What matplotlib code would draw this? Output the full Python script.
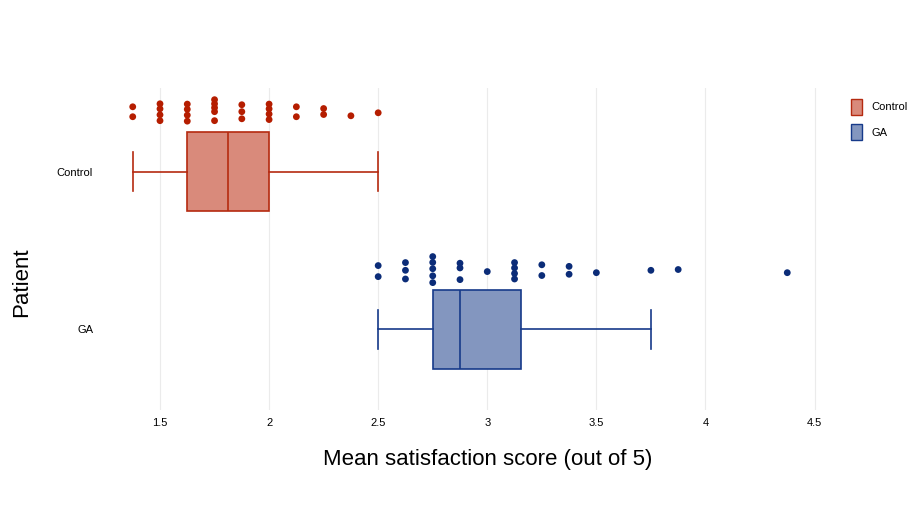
import matplotlib
matplotlib.use("Agg")
import matplotlib.pyplot as plt
from matplotlib.patches import Patch

# ---------------- data ----------------
groups = ["GA", "Control"]          # y positions 1, 2
group_pos = [1, 2]

# box statistics (mean satisfaction score)
box_q1 = [2.75, 1.625]
box_med = [2.875, 1.8125]
box_q3 = [3.15625, 2.0]
box_whislo = [2.5, 1.375]
box_whishi = [3.75, 2.5]

# individual scores shown as dots above each box (x value, vertical offset)
control_x = [1.375, 1.375,
             1.5, 1.5, 1.5, 1.5,
             1.625, 1.625, 1.625, 1.625,
             1.75, 1.75, 1.75, 1.75, 1.75,
             1.875, 1.875, 1.875,
             2.0, 2.0, 2.0, 2.0,
             2.125, 2.125,
             2.25, 2.25,
             2.375,
             2.5]
control_off = [0.411, 0.348,
               0.430, 0.398, 0.360, 0.323,
               0.428, 0.395, 0.358, 0.320,
               0.456, 0.430, 0.405, 0.380, 0.323,
               0.424, 0.380, 0.335,
               0.428, 0.398, 0.365, 0.330,
               0.411, 0.348,
               0.400, 0.362,
               0.354,
               0.373]

ga_x = [2.5, 2.5,
        2.625, 2.625, 2.625,
        2.75, 2.75, 2.75, 2.75, 2.75,
        2.875, 2.875, 2.875,
        3.0,
        3.125, 3.125, 3.125, 3.125,
        3.25, 3.25,
        3.375, 3.375,
        3.5,
        3.75,
        3.875,
        4.375]
ga_off = [0.405, 0.335,
          0.424, 0.375, 0.320,
          0.462, 0.425, 0.385, 0.340, 0.297,
          0.420, 0.390, 0.316,
          0.367,
          0.424, 0.390, 0.355, 0.320,
          0.410, 0.342,
          0.400, 0.350,
          0.360,
          0.375,
          0.380,
          0.360]

xticks = [1.5, 2, 2.5, 3, 3.5, 4, 4.5]
xtick_labels = ["1.5", "2", "2.5", "3", "3.5", "4", "4.5"]

edge_colors = ["#163a8a", "#b52a10"]
fill_colors = ["#8396bf", "#d98a7b"]
dot_colors = ["#0b2c78", "#b51d00"]

font = "Liberation Sans"

# ---------------- figure ----------------
fig = plt.figure(figsize=(9.21, 5.29), dpi=100)
ax = fig.add_axes([100 / 921, 1 - 410 / 529, 720 / 921, 322 / 529])

for i in range(len(groups)):
    st = dict(med=box_med[i], q1=box_q1[i], q3=box_q3[i],
              whislo=box_whislo[i], whishi=box_whishi[i], fliers=[])
    ax.bxp([st], positions=[group_pos[i]], vert=False, widths=0.5,
           patch_artist=True, showfliers=False,
           boxprops=dict(facecolor=fill_colors[i], edgecolor=edge_colors[i], linewidth=1.2),
           medianprops=dict(color=edge_colors[i], linewidth=1.2),
           whiskerprops=dict(color=edge_colors[i], linewidth=1.2),
           capprops=dict(color=edge_colors[i], linewidth=1.2),
           capwidths=0.25)

ax.scatter(control_x, [2 + o for o in control_off], s=24, color=dot_colors[1],
           edgecolors="none", zorder=3)
ax.scatter(ga_x, [1 + o for o in ga_off], s=24, color=dot_colors[0],
           edgecolors="none", zorder=3)

ax.set_xlim(1.225, 4.525)
ax.set_ylim(0.49, 2.53)
ax.set_xticks(xticks)
ax.set_xticklabels(xtick_labels, family=font, fontsize=8)
ax.set_yticks(group_pos)
ax.set_yticklabels(groups, family=font, fontsize=8)
ax.tick_params(axis="x", length=0, pad=6)
ax.tick_params(axis="y", length=0, pad=5)
ax.grid(axis="x", color="#ebebeb", linewidth=0.8)
ax.set_axisbelow(True)
for s in ax.spines.values():
    s.set_visible(False)

ax.set_xlabel("Mean satisfaction score (out of 5)", family=font, fontsize=16)
ax.xaxis.set_label_coords((488 - 100) / 720, -(460 - 410) / 322, transform=ax.transAxes)
ax.xaxis.label.set_va("center")
ax.set_ylabel("Patient", family=font, fontsize=16)
ax.yaxis.set_label_coords(-(100 - 22) / 720, (410 - 282) / 322, transform=ax.transAxes)
ax.yaxis.label.set_va("center")

handles = [Patch(facecolor=fill_colors[1], edgecolor=edge_colors[1], label="Control"),
           Patch(facecolor=fill_colors[0], edgecolor=edge_colors[0], label="GA")]
fig.legend(handles=handles, loc="upper left", bbox_to_anchor=(841 / 921, 1 - 89 / 529),
           frameon=False, prop=dict(family=font, size=8),
           handlelength=0.95, handleheight=1.8, handletextpad=0.9, labelspacing=0.85)

fig.savefig("out.png", dpi=100)
